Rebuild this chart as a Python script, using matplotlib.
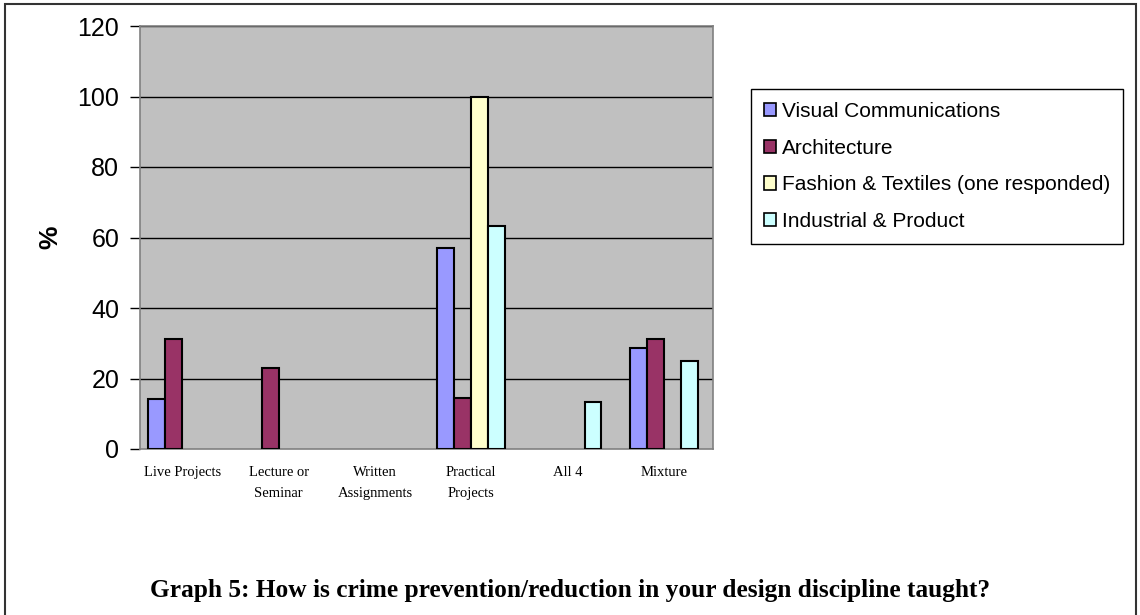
import numpy as np
import matplotlib.pyplot as plt
from matplotlib.patches import Patch, Rectangle

categories = ['Live Projects', 'Lecture or\nSeminar', 'Written\nAssignments',
              'Practical\nProjects', 'All 4', 'Mixture']
series_names = ['Visual Communications', 'Architecture',
                'Fashion & Textiles (one responded)', 'Industrial & Product']
visual_comm = [14.3, 0, 0, 57.1, 0, 28.6]
architecture = [31.3, 22.9, 0, 14.6, 0, 31.3]
fashion = [0, 0, 0, 100, 0, 0]
industrial = [0, 0, 0, 63.2, 13.2, 25.0]
y_ticks = [0, 20, 40, 60, 80, 100, 120]

colors = ['#9999FF', '#993366', '#FFFFCC', '#CCFFFF']

fig = plt.figure(figsize=(11.4, 6.15), dpi=100, facecolor='white')
ax = fig.add_axes([140/1140, 1-449/615, 573/1140, 423/615])
ax.set_facecolor('#C0C0C0')

x = np.arange(len(categories))
w = 0.176
all_series = [visual_comm, architecture, fashion, industrial]
for i, (vals, col) in enumerate(zip(all_series, colors)):
    bars = ax.bar(x + (i - 1.5) * w, vals, width=w, color=col,
                  edgecolor='black', linewidth=1.5, zorder=3)
    # zero values are not drawn in the original
    for b, v in zip(bars, vals):
        if v == 0:
            b.set_visible(False)

ax.set_xlim(-0.44, 5.51)
ax.set_ylim(0, 120)
ax.set_yticks(y_ticks)
ax.set_yticklabels([str(t) for t in y_ticks], fontsize=18, family='Liberation Sans')
for t in y_ticks[1:]:
    ax.axhline(t, color='black', linewidth=1, zorder=1)

ax.set_xticks(x)
ax.set_xticklabels(categories, fontsize=10.5, family='Liberation Serif', linespacing=1.8)
ax.tick_params(axis='x', length=0, pad=12)
ax.tick_params(axis='y', direction='out', length=7, width=1, color='black', pad=8)
for s in ax.spines.values():
    s.set_color('#808080')
    s.set_linewidth(1.2)

ax.set_ylabel('%', fontsize=19, fontweight='bold', family='Liberation Sans', labelpad=11)

handles = [Patch(facecolor=c, edgecolor='black', linewidth=1.2) for c in colors]
leg = fig.legend(handles, series_names, loc='upper left',
                 bbox_to_anchor=(751/1140, 1-89/615),
                 prop={'family': 'Liberation Sans', 'size': 15},
                 frameon=True, fancybox=False, framealpha=1, edgecolor='black',
                 handlelength=0.6, handleheight=0.6, handletextpad=0.25,
                 labelspacing=0.85, borderpad=0.62, borderaxespad=0)
leg.get_frame().set_linewidth(1)

fig.text(0.5, 1-590/615, 'Graph 5: How is crime prevention/reduction in your design discipline taught?',
         ha='center', va='center', fontsize=18.3, fontweight='bold', family='Liberation Serif')

fig.patches.append(Rectangle((5/1140, -0.05), 1131/1140, 0.05 + 1-4/615,
                             transform=fig.transFigure, fill=False,
                             edgecolor='#333333', linewidth=1.5))

plt.savefig('out.png', dpi=100)
